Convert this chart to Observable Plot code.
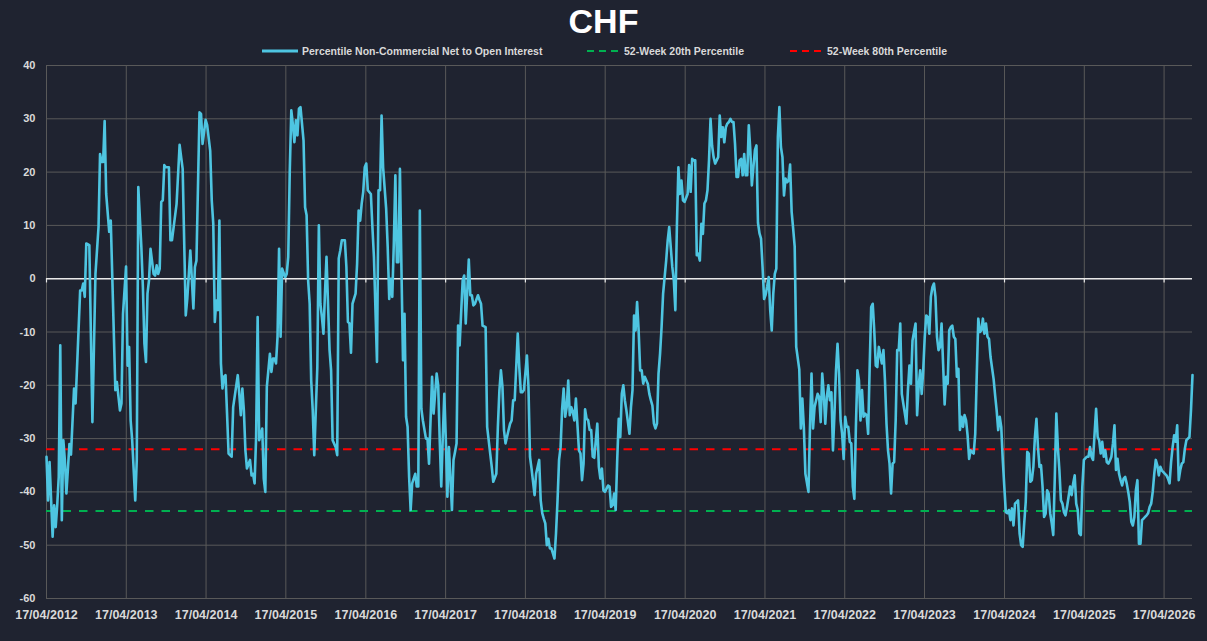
<!DOCTYPE html>
<html>
<head>
<meta charset="utf-8">
<script src="https://cdn.jsdelivr.net/npm/d3@7"></script>
<script src="https://cdn.jsdelivr.net/npm/@observablehq/plot@0.6"></script>
<style>
html, body { margin: 0; padding: 0; background: #1f2330; }
body { width: 1207px; height: 641px; overflow: hidden; font-family: "Liberation Sans", Arial, sans-serif; }
#header { position: relative; width: 1207px; height: 58px; }
#title { position: absolute; left: 0; right: 0; top: 1px; text-align: center; color: #ffffff; font-weight: bold; font-size: 34px; line-height: 40px; }
.lg { position: absolute; top: 44px; height: 14px; display: flex; align-items: center; color: #d9d9d9; font-weight: bold; font-size: 10.5px; white-space: nowrap; }
.lg svg { margin-right: 4px; }
#chart svg { display: block; }
</style>
</head>
<body>
<div id="header">
  <div id="title">CHF</div>
  <div class="lg" id="lg1" style="left:262px"></div>
  <div class="lg" id="lg2" style="left:587px"></div>
  <div class="lg" id="lg3" style="left:790px"></div>
</div>
<div id="chart"></div>
<script>
// ---- Data ----
const seriesName = "Percentile Non-Commercial Net to Open Interest";
const p20Name = "52-Week 20th Percentile";
const p80Name = "52-Week 80th Percentile";
const startDate = "2012-04-17";
// weeks since 17/04/2012
const weeks = [
  0,1,2,4,5,6,7,8,9,10,
  11,12,13,15,16,18,19,22,23,24,
  25,26,28,30,32,34,35,36,37,38,
  39,41,42,44,45,46,48,49,50,52,
  53,54,55,56,58,59,60,62,63,64,
  65,66,67,68,70,71,72,73,74,75,
  76,77,78,80,81,82,85,87,88,89,
  91,92,94,96,97,98,100,101,102,104,
  105,107,108,109,110,111,112,113,114,115,
  116,117,118,119,121,122,125,126,127,128,
  129,130,131,133,134,135,136,137,138,139,
  141,142,143,144,146,147,148,149,150,151,
  152,153,154,156,157,158,159,160,161,162,
  163,164,165,166,168,169,170,171,172,173,
  174,175,177,178,179,180,181,182,183,185,
  186,187,189,190,191,192,193,195,196,197,
  198,199,200,202,203,204,205,206,207,208,
  209,210,212,213,214,216,217,218,219,220,
  222,223,224,225,226,227,228,229,230,231,
  232,233,234,235,236,237,238,239,241,242,
  243,244,245,246,248,249,250,251,252,253,
  255,256,257,258,259,260,261,262,263,265,
  266,267,268,269,270,272,273,274,276,277,
  278,279,280,282,283,284,285,287,288,290,
  291,292,294,295,296,297,298,299,300,302,
  303,304,305,306,308,309,310,311,312,314,
  315,316,317,319,320,322,323,324,325,326,
  327,328,329,330,332,333,334,335,336,337,
  338,339,340,341,342,343,344,345,346,348,
  349,350,351,352,353,354,355,356,357,358,
  360,361,362,363,364,365,367,368,369,370,
  371,372,373,374,375,376,377,378,379,381,
  382,383,384,385,386,387,388,389,390,391,
  393,394,395,396,397,398,399,400,401,402,
  403,404,405,406,407,408,409,410,411,412,
  413,414,415,416,417,419,420,421,422,423,
  424,425,426,427,428,429,430,431,432,433,
  434,435,436,437,438,439,440,441,442,443,
  444,445,446,447,448,449,450,451,452,453,
  454,455,456,457,458,459,460,461,462,463,
  464,465,466,467,468,469,470,471,472,473,
  474,475,476,477,478,479,480,481,482,483,
  484,485,486,487,488,489,490,492,493,494,
  495,496,498,499,500,501,502,504,505,506,
  507,508,509,510,511,512,513,514,515,516,
  517,518,519,520,521,522,523,524,525,526,
  527,528,529,530,531,532,533,534,535,536,
  537,538,539,540,541,542,543,544,546,547,
  548,549,550,551,552,553,554,555,556,557,
  558,559,561,562,563,564,565,566,568,569,
  570,571,572,573,574,575,576,577,578,579,
  580,581,582,583,584,585,586,587,588,589,
  590,591,592,593,594,595,596,597,598,599,
  600,601,602,603,604,606,607,608,609,610,
  611,612,613,614,615,616,617,619,620,621,
  622,623,624,625,626,627,628,629,630,631,
  632,633,634,635,636,637,638,639,640,641,
  642,643,644,645,646,647,648,649,650,651,
  652,653,654,655,656,657,658,659,660,661,
  662,663,664,665,666,667,668,669,670,671,
  672,673,674,675,676,677,678,680,681,682,
  683,684,685,686,687,688,689,690,691,692,
  693,694,695,696,697,698,699,700,701,702,
  703,704,705,706,707,708,709,710,711,712,
  713,714,715,716,717,718,719,720,721,722,
  723,724,725,726,727,728,729,730,731,732,
  733,734,735,736,737,738,739,740,741,742,
  743,744,745,746,747,748,749
];
const netPercentile = [
  -33.4,-41.6,-34.4,-48.4,-42.5,-46.6,-42.5,-37.2,-12.5,-45.3,
  -30.3,-34.1,-40.3,-31,-33,-20.6,-23.4,-2.2,-2.2,-0.9,
  -3.4,6.6,6.3,-26.9,0.9,9.7,23.4,21.9,21.9,29.6,
  15.9,8.8,10.9,-10.3,-20.9,-19.4,-24.7,-23.4,-6.6,2.3,
  -16.3,-12.8,-26.6,-30.3,-41.6,-34,17.2,5.9,-1.6,-12.2,
  -15.6,-2.8,-0.3,5.6,0.9,0.6,2.5,0.9,1.9,14.4,
  14.7,21.3,20.9,20.9,7.2,7.2,14,25.1,22.8,20.6,
  -6.9,-3.8,5.3,-5.6,2.2,3.4,31.2,30.9,25.3,29.8,
  28.8,24,14.7,10.3,-8.1,-4.1,-5.9,10.9,-15.9,-20.6,
  -18.4,-18.1,-25.3,-32.8,-33.4,-24.1,-18.1,-21.6,-25.6,-20.6,
  -24.7,-32.2,-35.6,-34,-36.9,-36.6,-38.4,-29.7,-7.2,-30.3,
  -28.1,-37.5,-40,-20.3,-14.1,-17.5,-15,-15,-15.9,-10.9,
  5.6,-10.9,1.9,0.3,0.9,4.1,20.3,31.6,29,25.6,
  29.7,26.9,31.9,32.2,25.9,13.4,11.9,-0.3,-4.7,-19.1,
  -24.7,-33.1,-16.6,10,-4.7,-7.2,-10.3,-2.8,4.1,-13.4,
  -17.2,-30.3,-31.6,-33.1,3.8,5.3,7.2,7.2,2.2,-8.1,
  -8.4,-13.9,-4.7,-2.8,2.8,12.8,10.9,14.1,16.3,20.9,
  21.6,16.6,15.9,9.7,4.1,-15.6,16.6,16.6,30.6,20.9,
  13.1,5.9,-3.8,0,-3.4,6.6,19.4,3.1,3.1,20.6,
  1.6,-15.3,-6.6,-25.9,-27.8,-37.2,-43.4,-38.4,-36.6,-39,
  -39,12.8,-24.4,-26.6,-30,-30,-34.7,-26.6,-18.4,-25.3,
  -17.8,-20,-30.3,-39,-29.7,-21.6,-30.3,-40.9,-31.6,-43.4,
  -34,-32.5,-30.9,-8.8,-12.5,-0.3,0.6,-8.4,3.6,-3.1,
  -3.1,-5,-4.7,-3.1,-4,-4.7,-8.8,-9.1,-27.8,-32.8,
  -35.3,-38.1,-36.6,-27.8,-21,-17.2,-20.3,-28.4,-30.9,-28.4,
  -27.2,-26.6,-22.8,-22.8,-10.3,-16.6,-21.3,-21.3,-20.9,-14.4,
  -20.3,-33.4,-35.6,-40.6,-36.6,-34,-41.6,-44,-45,-45.9,
  -50,-48.8,-50.6,-50.6,-52.5,-47.8,-41.6,-34,-31.6,-24.4,
  -20.6,-25.9,-24.1,-19.1,-25.6,-24.1,-25,-26.6,-22.5,-32.2,
  -32.8,-37.8,-34.7,-24.5,-26.3,-26.5,-28.4,-28.4,-33.4,-33.6,
  -27.2,-35.3,-37.5,-35.6,-39.7,-40,-38.8,-39,-42.8,-42.5,
  -40.3,-43.4,-34,-26.3,-29.7,-21.6,-20,-22.8,-24.7,-29.1,
  -24.1,-20.9,-6.9,-9.7,-4.4,-9.7,-17.2,-17.2,-19.7,-18.4,
  -19.7,-21.6,-22.8,-23.8,-27.2,-28.1,-27.2,-17.8,-14.1,-9.1,
  -2.8,0.3,3.4,7.2,9.7,5.9,2.2,-0.3,-5.9,9.7,
  20.9,15.9,18.4,14.7,14.4,15.9,21.3,16.3,22.5,22.2,
  22.2,4.4,4.7,3.4,10.3,8.4,14.1,14.7,16.6,22.2,
  30,25,22.8,21.6,22.2,22.8,30.6,26.6,28.4,25.6,
  28.4,29.1,29.4,30,29.4,29.4,25.3,19.1,19.1,22.2,
  22.5,19.4,23.4,19.4,19.4,28.8,24.1,17.5,20.9,24.1,
  25,10.5,8.5,7.5,2.2,-3.8,-3,-1.5,0.3,-5.9,
  -9.7,-2.8,0.9,1.9,26.6,32.2,24.7,22.8,15.6,18.8,
  18.1,18.4,21.4,12.6,9.4,6,-12.8,-17,-28.1,-22.5,
  -28,-36.6,-40,-27.8,-17.8,-28.1,-24.1,-21.6,-22.2,-26.9,
  -17.8,-21.6,-27.2,-22.2,-20,-22.8,-21.3,-32.2,-25.3,-17.2,
  -12.2,-17.8,-26.6,-29.1,-33.8,-25.9,-27.8,-27.8,-30.6,-30.9,
  -39,-41.3,-27.8,-17.2,-19.1,-26.6,-20.9,-25.9,-25.3,-25.6,
  -29.1,-16.6,-5.3,-4.7,-9.7,-16.3,-16.6,-12.8,-15.9,-13.4,
  -19.1,-27.2,-32.2,-34.7,-40.3,-34.7,-34.4,-26.6,-13.4,-13.4,
  -8.4,-21.6,-25.3,-27.2,-20.9,-16.3,-19.7,-11.6,-8.4,-25.6,
  -20.3,-17.2,-21.6,-17.2,-10.9,-6.9,-7.2,-10.3,-3.4,-1.6,
  -0.9,-3.4,-10.9,-13.4,-12.8,-8.4,-16,-23.6,-18.4,-19.7,
  -9.7,-9.1,-8.8,-10.9,-11.3,-18.4,-16.9,-28.4,-25.9,-27.8,
  -25.6,-26.6,-29.4,-33.8,-32.2,-32.8,-29.1,-18,-7.5,-10,
  -9.7,-7.5,-10.3,-8.4,-10.9,-11.3,-14.7,-18.8,-21.9,-24.7,
  -28.4,-25.9,-27.8,-34,-39,-43.8,-44,-43.4,-45.3,-43.1,
  -46.3,-42.2,-41.9,-41.6,-47.8,-50,-50.3,-45.9,-41.9,-32.5,
  -32.8,-38.1,-37.8,-35.3,-29.7,-26.3,-31.6,-35.3,-35,-39,
  -44.7,-44.1,-39.7,-40.3,-44,-45.9,-48.1,-37.2,-25.3,-31.6,
  -35.9,-41.6,-42.2,-43.8,-44.4,-42.8,-40.9,-39,-40.6,-38.4,
  -36.9,-42.2,-43.4,-47.8,-48.1,-39,-34,-33.4,-33.4,-31.6,
  -33.4,-34,-29.1,-24.4,-29.7,-30.3,-32.8,-30.6,-33.4,-32.2,
  -34.4,-34.7,-34.1,-33.4,-30.9,-27.5,-35.9,-33.8,-36.6,-37.8,
  -38.8,-37.5,-37.2,-38.4,-40,-41.9,-45.6,-46.3,-44.7,-39.7,
  -37.8,-49.7,-49.7,-45.3,-45,-44.7,-44.4,-44,-42.8,-42.2,
  -40,-36.6,-34,-35,-36.9,-35.3,-36,-36.3,-36.6,-36.9,
  -37.5,-38.4,-34.4,-31.6,-29.4,-30.6,-27.5,-37.8,-35.9,-34.7,
  -34.4,-31.9,-30.3,-30,-29.7,-24.7,-18.1
];
const percentile20 = -43.6;
const percentile80 = -32.0;
const yTicks = [-60, -50, -40, -30, -20, -10, 0, 10, 20, 30, 40];
const tickYears = [2012, 2013, 2014, 2015, 2016, 2017, 2018, 2019, 2020, 2021, 2022, 2023, 2024, 2025, 2026];

// ---- Build ----
const COLORS = { line: "#4ec5e1", p20: "#00b050", p80: "#ff0000", grid: "#595959", text: "#d9d9d9", zero: "#e8e8e8" };
const start = d3.timeParse("%Y-%m-%d")(startDate);
const n = Math.min(weeks.length, netPercentile.length);
const data = d3.range(n).map(i => ({ date: d3.timeDay.offset(start, weeks[i] * 7), value: netPercentile[i] }));
const yearTicks = tickYears.map(y => new Date(y, 3, 17));
const fmt = d3.timeFormat("%d/%m/%Y");

const plot = Plot.plot({
  width: 1207,
  height: 583,
  marginTop: 7,
  marginBottom: 43,
  marginLeft: 46,
  marginRight: 15,
  style: { background: "transparent", color: COLORS.text, fontFamily: '"Liberation Sans", Arial, sans-serif' },
  x: { type: "time", domain: [start, data[n - 1].date], label: null },
  y: { domain: [-60, 40], label: null },
  marks: [
    Plot.gridX(yearTicks, { stroke: COLORS.grid, strokeOpacity: 1, strokeWidth: 1 }),
    Plot.gridY(yTicks, { stroke: COLORS.grid, strokeOpacity: 1, strokeWidth: 1 }),
    Plot.ruleY([0], { stroke: COLORS.zero, strokeWidth: 1.4 }),
    Plot.ruleX(yearTicks, { x: d => d, y1: 0, y2: -0.8, stroke: COLORS.zero, strokeWidth: 1.2 }),
    Plot.ruleY([percentile20], { stroke: COLORS.p20, strokeWidth: 2, strokeDasharray: "8.5,8" }),
    Plot.ruleY([percentile80], { stroke: COLORS.p80, strokeWidth: 2, strokeDasharray: "8.5,8" }),
    Plot.line(data, { x: "date", y: "value", stroke: COLORS.line, strokeWidth: 2.6, strokeLinejoin: "round" }),
    Plot.axisX(yearTicks, { tickSize: 0, tickPadding: 12, tickFormat: fmt, fontSize: 12.5, fontWeight: "bold", fill: COLORS.text }),
    Plot.axisY(yTicks, { tickSize: 0, tickPadding: 11, tickFormat: d => String(d), fontSize: 11, fontWeight: "bold", fill: COLORS.text })
  ]
});
document.getElementById("chart").appendChild(plot);

// ---- Legend ----
function legendItem(id, label, color, dashed) {
  const el = document.getElementById(id);
  const w = dashed ? 33 : 36;
  const sw = dashed ? 2 : 3;
  const dash = dashed ? ' stroke-dasharray="7,5"' : '';
  el.innerHTML = `<svg width="${w}" height="6"><line x1="0" y1="3" x2="${w}" y2="3" stroke="${color}" stroke-width="${sw}"${dash}/></svg><span>${label}</span>`;
}
legendItem("lg1", seriesName, COLORS.line, false);
legendItem("lg2", p20Name, COLORS.p20, true);
legendItem("lg3", p80Name, COLORS.p80, true);
</script>
</body>
</html>
